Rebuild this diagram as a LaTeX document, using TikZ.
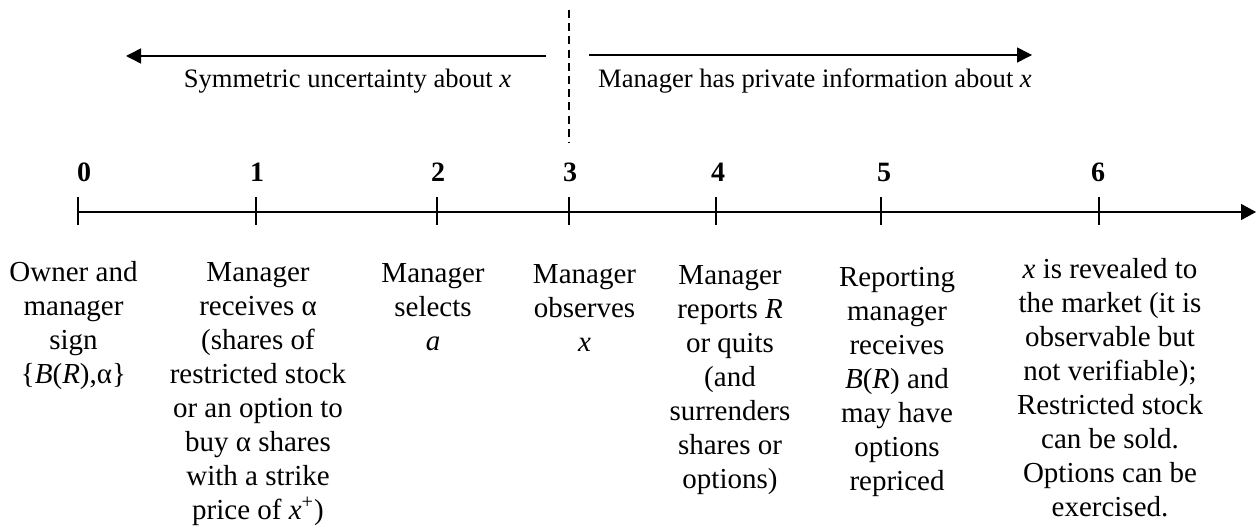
\documentclass[tikz,border=0pt]{standalone}
\usepackage{fontspec}
\setmainfont{Liberation Serif}
\usetikzlibrary{arrows.meta}
\tikzset{
  axisline/.style={line width=0.75pt},
  tickline/.style={line width=0.75pt},
  toparrow/.style={line width=0.75pt,-{Triangle[length=7.5pt,width=7.5pt]}},
  divider/.style={line width=0.6pt,dash pattern=on 4pt off 2.6pt},
  digit/.style={font=\fontsize{14}{17}\selectfont\bfseries,anchor=base,inner sep=0pt},
  toptext/.style={font=\fontsize{13.3}{16}\selectfont,anchor=base,inner sep=0pt},
  event/.style={font=\fontsize{14.5}{17}\selectfont,anchor=north,align=center,inner sep=0pt}
}
\begin{document}
\begin{tikzpicture}[x=0.5pt,y=-0.5pt]
\useasboundingbox (0,0) rectangle (1256,529);
% divider
\coordinate (dtop) at (569,10);
\coordinate (dbot) at (569,143);
\draw[divider] (dtop) -- (dbot);
% top arrows
\coordinate (la1) at (546,56);
\coordinate (la2) at (126,56);
\coordinate (ra1) at (589,55);
\coordinate (ra2) at (1032,55);
\draw[toparrow] (la1) -- (la2);
\draw[toparrow] (ra1) -- (ra2);
\node[toptext] (symtext) at (347.5,88) {Symmetric uncertainty about \textit{x}};
\node[toptext] (privtext) at (815,88) {Manager has private information about \textit{x}};
% timeline
\coordinate (tlstart) at (78,212);
\coordinate (tlend) at (1256,212);
\draw[axisline,-{Triangle[length=7.5pt,width=8pt]}] (tlstart) -- (tlend);
\foreach \i/\x in {0/78,1/256,2/437,3/569,4/716,5/881,6/1099}{
  \coordinate (ta\i) at (\x,197);
  \coordinate (tb\i) at (\x,225);
  \draw[tickline] (ta\i) -- (tb\i);
}
% digits
\node[digit] (d0) at (84,182) {0};
\node[digit] (d1) at (257,182) {1};
\node[digit] (d2) at (438,182) {2};
\node[digit] (d3) at (570,182) {3};
\node[digit] (d4) at (718,182) {4};
\node[digit] (d5) at (884,182) {5};
\node[digit] (d6) at (1098,182) {6};
% events
\node[event] (e0) at (73.5,257.2) {\strut Owner and\\manager\\sign\\\{\textit{B}(\textit{R}),α\}};
\node[event] (e1) at (258,257.2) {\strut Manager\\receives α\\(shares of\\restricted stock\\or an option to\\buy α shares\\with a strike\\price of \textit{x}\textsuperscript{+})};
\node[event] (e2) at (433,258.2) {\strut Manager\\selects\\\textit{a}};
\node[event] (e3) at (584.5,259.2) {\strut Manager\\observes\\\textit{x}};
\node[event] (e4) at (730,260.2) {\strut Manager\\reports \textit{R}\\or quits\\(and\\surrenders\\shares or\\options)};
\node[event] (e5) at (897,262.2) {\strut Reporting\\manager\\receives\\\textit{B}(\textit{R}) and\\may have\\options\\repriced};
\node[event] (e6) at (1110,254.2) {\strut\textit{x} is revealed to\\the market (it is\\observable but\\not verifiable);\\Restricted stock\\can be sold.\\Options can be\\exercised.};
\end{tikzpicture}
\end{document}
